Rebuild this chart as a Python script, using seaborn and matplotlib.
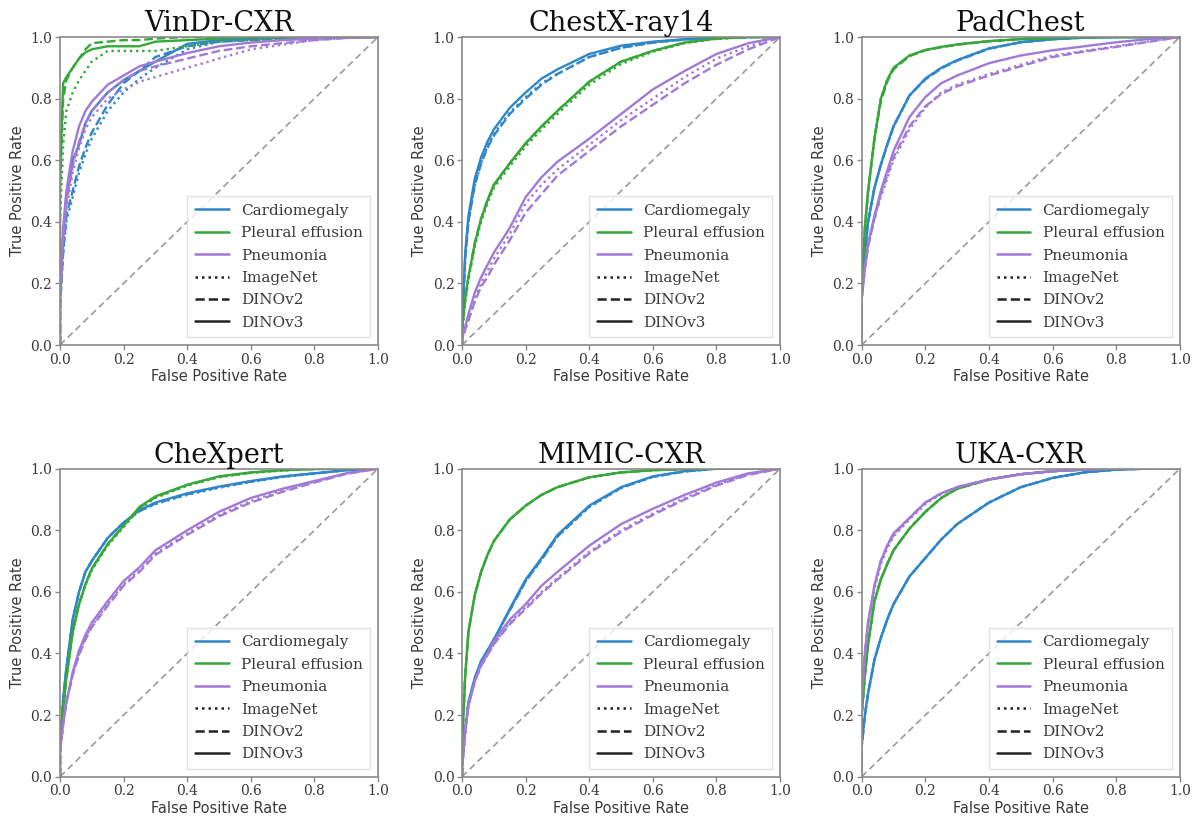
import matplotlib
matplotlib.use("Agg")
import matplotlib.pyplot as plt
from matplotlib.lines import Line2D
import pandas as pd
import seaborn as sns

# Shared false-positive-rate grid (first two entries form the vertical start at FPR=0)
FPR_GRID = [0.0, 0.0, 0.01, 0.02, 0.04, 0.06, 0.08, 0.10, 0.15, 0.20,
            0.25, 0.30, 0.40, 0.50, 0.60, 0.70, 0.80, 0.90, 1.00]
CHANCE = [0.0, 1.0]

DATASETS = ["VinDr-CXR", "ChestX-ray14", "PadChest", "CheXpert", "MIMIC-CXR", "UKA-CXR"]
DISEASES = ["Cardiomegaly", "Pleural effusion", "Pneumonia"]
MODELS = ["ImageNet", "DINOv2", "DINOv3"]

# ---- VinDr-CXR ----
vindr_cardio_imagenet = [0, 0.12, 0.30, 0.40, 0.48, 0.56, 0.62, 0.67, 0.76, 0.82, 0.865, 0.90, 0.96, 0.985, 0.993, 1, 1, 1, 1]
vindr_cardio_dinov2 = [0, 0.12, 0.30, 0.42, 0.50, 0.58, 0.64, 0.69, 0.78, 0.85, 0.89, 0.935, 0.97, 0.985, 0.99, 0.995, 1, 1, 1]
vindr_cardio_dinov3 = [0, 0.15, 0.35, 0.48, 0.60, 0.65, 0.72, 0.76, 0.82, 0.86, 0.89, 0.92, 0.978, 0.99, 0.995, 0.998, 1, 1, 1]
vindr_effusion_imagenet = [0, 0.40, 0.65, 0.76, 0.82, 0.86, 0.89, 0.92, 0.955, 0.955, 0.955, 0.955, 0.97, 0.985, 0.99, 0.995, 1, 1, 1]
vindr_effusion_dinov2 = [0, 0.50, 0.80, 0.86, 0.90, 0.93, 0.96, 0.98, 0.985, 0.99, 0.99, 0.995, 1, 1, 1, 1, 1, 1, 1]
vindr_effusion_dinov3 = [0, 0.55, 0.85, 0.87, 0.90, 0.93, 0.95, 0.96, 0.97, 0.97, 0.97, 0.985, 0.99, 0.995, 1, 1, 1, 1, 1]
vindr_pneumonia_imagenet = [0, 0.12, 0.33, 0.44, 0.56, 0.64, 0.70, 0.74, 0.80, 0.83, 0.855, 0.87, 0.90, 0.93, 0.96, 0.975, 0.99, 0.997, 1]
vindr_pneumonia_dinov2 = [0, 0.15, 0.35, 0.46, 0.58, 0.66, 0.72, 0.76, 0.82, 0.86, 0.89, 0.905, 0.93, 0.955, 0.97, 0.98, 0.99, 0.997, 1]
vindr_pneumonia_dinov3 = [0, 0.15, 0.38, 0.50, 0.63, 0.71, 0.76, 0.79, 0.845, 0.875, 0.905, 0.92, 0.948, 0.97, 0.982, 0.99, 0.995, 0.998, 1]

# ---- ChestX-ray14 ----
cxr14_cardio_imagenet = [0, 0.05, 0.28, 0.40, 0.52, 0.59, 0.645, 0.685, 0.755, 0.805, 0.85, 0.88, 0.935, 0.965, 0.982, 0.992, 0.997, 1, 1]
cxr14_cardio_dinov2 = [0, 0.05, 0.28, 0.40, 0.52, 0.59, 0.64, 0.68, 0.75, 0.80, 0.845, 0.88, 0.935, 0.965, 0.982, 0.992, 0.997, 1, 1]
cxr14_cardio_dinov3 = [0, 0.06, 0.30, 0.42, 0.54, 0.61, 0.66, 0.70, 0.77, 0.82, 0.865, 0.895, 0.945, 0.972, 0.985, 0.993, 0.998, 1, 1]
cxr14_effusion_imagenet = [0, 0.04, 0.14, 0.21, 0.32, 0.40, 0.46, 0.51, 0.58, 0.645, 0.70, 0.75, 0.845, 0.912, 0.952, 0.98, 0.994, 1, 1]
cxr14_effusion_dinov2 = [0, 0.05, 0.15, 0.22, 0.33, 0.41, 0.47, 0.52, 0.59, 0.655, 0.71, 0.76, 0.855, 0.92, 0.955, 0.982, 0.995, 1, 1]
cxr14_effusion_dinov3 = [0, 0.05, 0.15, 0.22, 0.33, 0.41, 0.47, 0.52, 0.59, 0.655, 0.71, 0.76, 0.855, 0.92, 0.955, 0.982, 0.995, 1, 1]
cxr14_pneumonia_imagenet = [0, 0.02, 0.05, 0.08, 0.15, 0.20, 0.24, 0.28, 0.36, 0.46, 0.52, 0.57, 0.65, 0.73, 0.80, 0.87, 0.93, 0.97, 1]
cxr14_pneumonia_dinov2 = [0, 0.02, 0.05, 0.08, 0.14, 0.19, 0.22, 0.26, 0.34, 0.43, 0.49, 0.55, 0.63, 0.71, 0.78, 0.85, 0.91, 0.96, 1]
cxr14_pneumonia_dinov3 = [0, 0.02, 0.06, 0.10, 0.17, 0.22, 0.26, 0.30, 0.38, 0.48, 0.545, 0.595, 0.67, 0.75, 0.83, 0.89, 0.945, 0.98, 1]

# ---- PadChest ----
pad_cardio_imagenet = [0, 0.20, 0.30, 0.40, 0.51, 0.585, 0.65, 0.71, 0.81, 0.865, 0.90, 0.925, 0.963, 0.983, 0.993, 0.998, 1, 1, 1]
pad_cardio_dinov2 = [0, 0.20, 0.30, 0.40, 0.51, 0.585, 0.65, 0.71, 0.81, 0.862, 0.898, 0.923, 0.962, 0.983, 0.993, 0.998, 1, 1, 1]
pad_cardio_dinov3 = [0, 0.20, 0.30, 0.40, 0.51, 0.585, 0.65, 0.71, 0.81, 0.865, 0.90, 0.925, 0.963, 0.983, 0.993, 0.998, 1, 1, 1]
pad_effusion_imagenet = [0, 0.20, 0.38, 0.50, 0.67, 0.80, 0.86, 0.90, 0.94, 0.958, 0.968, 0.976, 0.987, 0.993, 0.997, 1, 1, 1, 1]
pad_effusion_dinov2 = [0, 0.20, 0.38, 0.50, 0.67, 0.79, 0.855, 0.895, 0.938, 0.957, 0.967, 0.975, 0.986, 0.993, 0.997, 1, 1, 1, 1]
pad_effusion_dinov3 = [0, 0.20, 0.38, 0.50, 0.67, 0.80, 0.86, 0.90, 0.94, 0.958, 0.968, 0.976, 0.987, 0.993, 0.997, 1, 1, 1, 1]
pad_pneumonia_imagenet = [0, 0.15, 0.25, 0.32, 0.41, 0.48, 0.54, 0.60, 0.70, 0.77, 0.82, 0.845, 0.88, 0.91, 0.94, 0.955, 0.97, 0.985, 1]
pad_pneumonia_dinov2 = [0, 0.15, 0.25, 0.32, 0.41, 0.49, 0.55, 0.61, 0.71, 0.775, 0.815, 0.84, 0.875, 0.905, 0.935, 0.953, 0.968, 0.984, 1]
pad_pneumonia_dinov3 = [0, 0.15, 0.25, 0.33, 0.42, 0.50, 0.565, 0.63, 0.74, 0.805, 0.85, 0.875, 0.915, 0.94, 0.957, 0.97, 0.983, 0.993, 1]

# ---- CheXpert ----
chex_cardio_imagenet = [0, 0.10, 0.25, 0.35, 0.51, 0.60, 0.665, 0.70, 0.775, 0.825, 0.862, 0.885, 0.915, 0.938, 0.957, 0.973, 0.984, 0.995, 1]
chex_cardio_dinov2 = [0, 0.10, 0.25, 0.35, 0.51, 0.60, 0.665, 0.70, 0.775, 0.825, 0.862, 0.887, 0.917, 0.94, 0.958, 0.974, 0.985, 0.995, 1]
chex_cardio_dinov3 = [0, 0.10, 0.25, 0.35, 0.51, 0.60, 0.665, 0.70, 0.775, 0.825, 0.865, 0.89, 0.92, 0.942, 0.96, 0.975, 0.985, 0.995, 1]
chex_effusion_imagenet = [0, 0.10, 0.22, 0.32, 0.47, 0.56, 0.62, 0.67, 0.75, 0.81, 0.87, 0.905, 0.945, 0.972, 0.986, 0.994, 0.999, 1, 1]
chex_effusion_dinov2 = [0, 0.10, 0.22, 0.32, 0.47, 0.56, 0.625, 0.675, 0.755, 0.815, 0.873, 0.908, 0.947, 0.974, 0.987, 0.995, 0.999, 1, 1]
chex_effusion_dinov3 = [0, 0.10, 0.22, 0.32, 0.47, 0.56, 0.625, 0.675, 0.755, 0.815, 0.876, 0.91, 0.948, 0.975, 0.988, 0.995, 0.999, 1, 1]
chex_pneumonia_imagenet = [0, 0.08, 0.17, 0.24, 0.33, 0.40, 0.45, 0.49, 0.56, 0.625, 0.67, 0.725, 0.79, 0.85, 0.895, 0.93, 0.958, 0.985, 1]
chex_pneumonia_dinov2 = [0, 0.08, 0.17, 0.24, 0.33, 0.395, 0.445, 0.485, 0.555, 0.62, 0.665, 0.72, 0.785, 0.845, 0.89, 0.925, 0.955, 0.983, 1]
chex_pneumonia_dinov3 = [0, 0.08, 0.17, 0.24, 0.34, 0.41, 0.46, 0.50, 0.57, 0.635, 0.68, 0.735, 0.80, 0.86, 0.905, 0.935, 0.96, 0.985, 1]

# ---- MIMIC-CXR ----
mimic_cardio_imagenet = [0, 0.03, 0.15, 0.24, 0.32, 0.375, 0.41, 0.445, 0.54, 0.635, 0.705, 0.78, 0.875, 0.937, 0.973, 0.991, 1, 1, 1]
mimic_cardio_dinov2 = [0, 0.03, 0.15, 0.24, 0.32, 0.375, 0.41, 0.445, 0.54, 0.635, 0.705, 0.78, 0.877, 0.938, 0.974, 0.991, 1, 1, 1]
mimic_cardio_dinov3 = [0, 0.03, 0.15, 0.24, 0.32, 0.375, 0.41, 0.445, 0.545, 0.64, 0.71, 0.785, 0.88, 0.94, 0.975, 0.992, 1, 1, 1]
mimic_effusion_imagenet = [0, 0.10, 0.33, 0.47, 0.59, 0.665, 0.72, 0.765, 0.835, 0.88, 0.915, 0.94, 0.972, 0.988, 0.995, 0.999, 1, 1, 1]
mimic_effusion_dinov2 = [0, 0.10, 0.33, 0.47, 0.59, 0.665, 0.72, 0.765, 0.835, 0.88, 0.915, 0.94, 0.972, 0.988, 0.995, 0.999, 1, 1, 1]
mimic_effusion_dinov3 = [0, 0.10, 0.33, 0.47, 0.59, 0.665, 0.72, 0.765, 0.835, 0.88, 0.915, 0.94, 0.972, 0.988, 0.995, 0.999, 1, 1, 1]
mimic_pneumonia_imagenet = [0, 0.03, 0.15, 0.23, 0.31, 0.36, 0.395, 0.43, 0.50, 0.55, 0.60, 0.645, 0.73, 0.80, 0.855, 0.905, 0.948, 0.982, 1]
mimic_pneumonia_dinov2 = [0, 0.03, 0.15, 0.23, 0.31, 0.36, 0.395, 0.43, 0.495, 0.545, 0.595, 0.64, 0.725, 0.795, 0.85, 0.90, 0.945, 0.98, 1]
mimic_pneumonia_dinov3 = [0, 0.03, 0.15, 0.23, 0.31, 0.365, 0.40, 0.44, 0.51, 0.56, 0.62, 0.665, 0.75, 0.82, 0.87, 0.915, 0.955, 0.985, 1]

# ---- UKA-CXR ----
uka_cardio_imagenet = [0, 0.10, 0.20, 0.27, 0.38, 0.45, 0.51, 0.56, 0.65, 0.71, 0.77, 0.82, 0.89, 0.94, 0.97, 0.988, 0.997, 1, 1]
uka_cardio_dinov2 = [0, 0.10, 0.20, 0.27, 0.38, 0.45, 0.51, 0.56, 0.65, 0.71, 0.77, 0.82, 0.89, 0.94, 0.97, 0.988, 0.997, 1, 1]
uka_cardio_dinov3 = [0, 0.10, 0.20, 0.27, 0.38, 0.45, 0.51, 0.56, 0.65, 0.71, 0.77, 0.82, 0.89, 0.94, 0.97, 0.988, 0.997, 1, 1]
uka_effusion_imagenet = [0, 0.20, 0.33, 0.43, 0.57, 0.64, 0.69, 0.735, 0.805, 0.86, 0.905, 0.935, 0.965, 0.982, 0.992, 0.997, 1, 1, 1]
uka_effusion_dinov2 = [0, 0.20, 0.33, 0.43, 0.57, 0.64, 0.69, 0.735, 0.805, 0.86, 0.905, 0.935, 0.965, 0.982, 0.992, 0.997, 1, 1, 1]
uka_effusion_dinov3 = [0, 0.20, 0.33, 0.43, 0.57, 0.64, 0.69, 0.735, 0.805, 0.86, 0.905, 0.935, 0.965, 0.982, 0.992, 0.997, 1, 1, 1]
uka_pneumonia_imagenet = [0, 0.25, 0.40, 0.50, 0.61, 0.69, 0.74, 0.78, 0.835, 0.885, 0.918, 0.94, 0.965, 0.982, 0.992, 0.997, 1, 1, 1]
uka_pneumonia_dinov2 = [0, 0.25, 0.40, 0.50, 0.62, 0.70, 0.75, 0.785, 0.84, 0.89, 0.92, 0.94, 0.965, 0.982, 0.992, 0.997, 1, 1, 1]
uka_pneumonia_dinov3 = [0, 0.25, 0.40, 0.50, 0.62, 0.70, 0.75, 0.79, 0.84, 0.89, 0.92, 0.94, 0.965, 0.982, 0.992, 0.997, 1, 1, 1]

PREFIXES = {"VinDr-CXR": "vindr", "ChestX-ray14": "cxr14", "PadChest": "pad",
            "CheXpert": "chex", "MIMIC-CXR": "mimic", "UKA-CXR": "uka"}
DISEASE_KEYS = {"Cardiomegaly": "cardio", "Pleural effusion": "effusion", "Pneumonia": "pneumonia"}
MODEL_KEYS = {"ImageNet": "imagenet", "DINOv2": "dinov2", "DINOv3": "dinov3"}

PALETTE = {"Cardiomegaly": "#2f86c8", "Pleural effusion": "#36a83a", "Pneumonia": "#a07ad6"}
DASHES = {"ImageNet": (1, 1.6), "DINOv2": (3.7, 1.6), "DINOv3": ""}

# Long-form table of all ROC curves
rows = []
scope = globals()
for ds in DATASETS:
    for dz in DISEASES:
        for md in MODELS:
            tpr = scope[f"{PREFIXES[ds]}_{DISEASE_KEYS[dz]}_{MODEL_KEYS[md]}"]
            for i, (f, t) in enumerate(zip(FPR_GRID, tpr)):
                rows.append({"dataset": ds, "disease": dz, "model": md,
                             "step": i, "fpr": f, "tpr": t})
df = pd.DataFrame(rows)

sns.set_style("white")
plt.rcParams["font.family"] = ["DejaVu Serif"]
TEXT = "#3a3a3a"
SPINE = "#8a8a8a"

fig = plt.figure(figsize=(11.97, 8.23), dpi=100)
W, H = 0.2657, 0.3742
lefts = [0.0501, 0.3860, 0.7199]
bottoms = [0.5808, 0.0563]

for k, ds in enumerate(DATASETS):
    ax = fig.add_axes([lefts[k % 3], bottoms[k // 3], W, H])
    sub = df[df["dataset"] == ds]
    sns.lineplot(data=sub, x="fpr", y="tpr", hue="disease", style="model",
                 hue_order=DISEASES, style_order=MODELS, palette=PALETTE,
                 dashes=DASHES, estimator=None, sort=True, lw=1.7,
                 legend=False, ax=ax)
    ax.plot(CHANCE, CHANCE, color="#9a9a9a", lw=1.2, ls=(0, (4, 2.5)), zorder=0)
    ax.set_xlim(0, 1)
    ax.set_ylim(0, 1)
    ax.set_xticks([0, 0.2, 0.4, 0.6, 0.8, 1.0])
    ax.set_yticks([0, 0.2, 0.4, 0.6, 0.8, 1.0])
    ax.set_xticklabels([f"{v:.1f}" for v in ax.get_xticks()])
    ax.set_yticklabels([f"{v:.1f}" for v in ax.get_yticks()])
    ax.tick_params(axis="both", which="both", length=3.5, width=1, color=SPINE,
                   labelsize=10, labelcolor=TEXT, direction="out", pad=2,
                   bottom=True, left=True)
    for sp in ax.spines.values():
        sp.set_color(SPINE)
        sp.set_linewidth(1.2)
    ax.set_xlabel("False Positive Rate", family="DejaVu Sans", fontsize=10.5,
                  color=TEXT, labelpad=2)
    ax.set_ylabel("True Positive Rate", family="DejaVu Sans", fontsize=10.5,
                  color=TEXT, labelpad=4)
    ax.set_title(ds, family="DejaVu Serif", fontsize=19.5, color="#111111", pad=3)

    handles = [Line2D([], [], color=PALETTE[d], lw=1.8) for d in DISEASES]
    handles += [Line2D([], [], color="#222222", lw=1.8, ls=ls)
                for ls in [(0, (1, 1.6)), (0, (3.7, 1.6)), "-"]]
    leg = ax.legend(handles, DISEASES + MODELS, loc="lower right", fontsize=11,
                    frameon=True, fancybox=False, borderpad=0.5,
                    labelspacing=0.55, handlelength=2.2, handletextpad=0.8,
                    borderaxespad=0.5)
    leg.get_frame().set_edgecolor("#dddddd")
    leg.get_frame().set_linewidth(1.0)
    for t in leg.get_texts():
        t.set_color(TEXT)

fig.savefig("out.png", dpi=100, facecolor="white")
